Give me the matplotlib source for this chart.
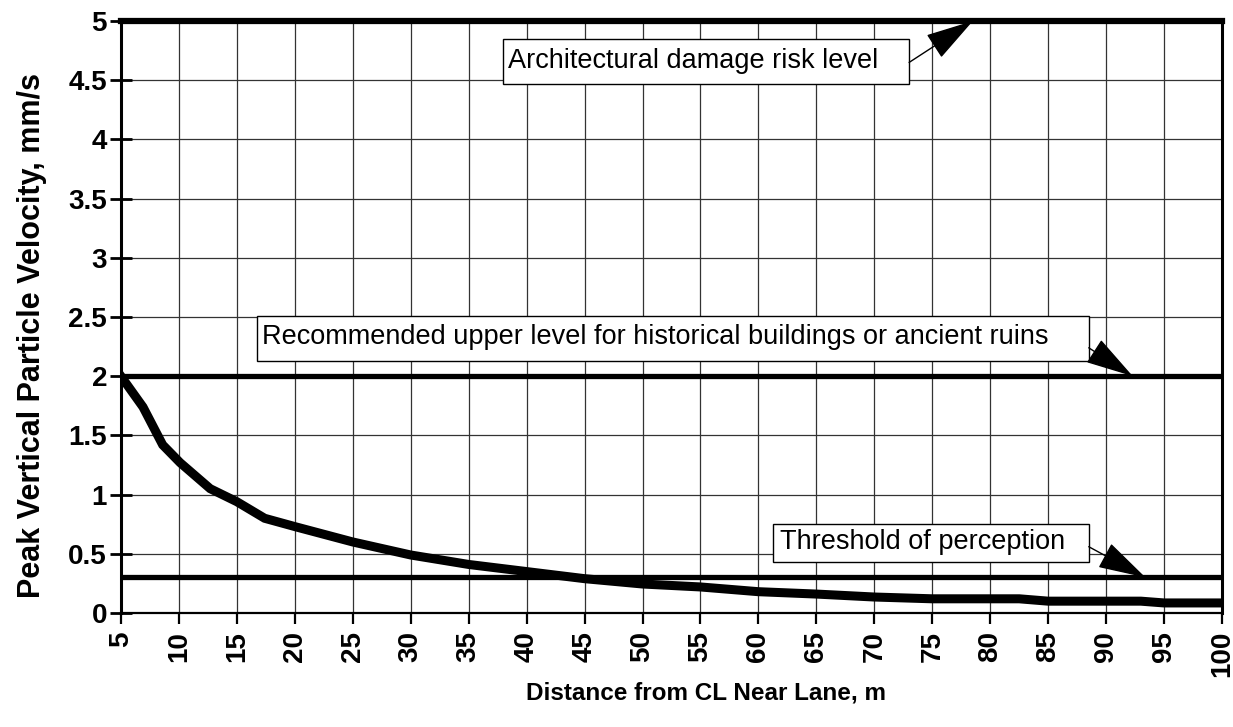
import matplotlib.pyplot as plt
from matplotlib.patches import Rectangle, ArrowStyle

plt.rcParams['font.family'] = ['Liberation Sans', 'DejaVu Sans']

# attenuation of peak particle velocity with distance from the near lane
distance = [5, 6.9, 8.6, 10.1, 12.7, 15, 17.4, 20, 25, 30, 35, 40, 45, 50, 55,
            60, 65, 70, 75, 80, 82.5, 85, 90, 93, 95, 100]
ppv = [2.0, 1.74, 1.42, 1.27, 1.05, 0.94, 0.80, 0.73, 0.60, 0.49, 0.41, 0.35,
       0.29, 0.245, 0.22, 0.18, 0.16, 0.135, 0.12, 0.12, 0.12, 0.10, 0.10,
       0.10, 0.085, 0.085]

# criterion levels, mm/s
damage_level = 5.0
historic_level = 2.0
perception_level = 0.3

x_ticks = list(range(5, 101, 5))
y_ticks = [0, 0.5, 1, 1.5, 2, 2.5, 3, 3.5, 4, 4.5, 5]
y_tick_labels = ['0', '0.5', '1', '1.5', '2', '2.5', '3', '3.5', '4', '4.5', '5']

fig = plt.figure(figsize=(12.33, 7.27), dpi=100)
ax = fig.add_axes([0.0981, 0.1568, 0.8930, 0.8143])

ax.set_xlim(5, 100)
ax.set_ylim(0, 5)
ax.set_xticks(x_ticks)
ax.set_yticks(y_ticks)
ax.set_yticklabels(y_tick_labels)
ax.grid(color='0.2', lw=0.9, ls='-')
ax.set_axisbelow(True)

for s in ['left', 'right']:
    ax.spines[s].set_linewidth(2.2)
ax.spines['bottom'].set_linewidth(1.6)
ax.spines['top'].set_linewidth(1.6)

ax.tick_params(axis='y', direction='inout', length=16, width=2, labelsize=20, pad=2)
ax.tick_params(axis='x', direction='out', length=8, width=1.6, labelsize=20,
               labelrotation=90, pad=5)
for lab in ax.get_xticklabels() + ax.get_yticklabels():
    lab.set_fontweight('bold')

# horizontal criterion lines
ax.axhline(damage_level, color='black', lw=4.5, zorder=3, clip_on=False)
ax.axhline(historic_level, color='black', lw=3.8, zorder=3)
ax.axhline(perception_level, color='black', lw=3.8, zorder=3)

# measured curve
ax.plot(distance, ppv, color='black', lw=6.5, solid_joinstyle='miter', zorder=4)

# labelled boxes with arrows pointing at each level
notes = [
    ('Architectural damage risk level', (38.0, 4.47, 35.0, 0.38), (38.4, 4.66),
     (73.0, 4.65), (78.5, damage_level)),
    ('Recommended upper level for historical buildings or ancient ruins',
     (16.7, 2.13, 71.8, 0.38), (17.2, 2.33), (88.5, 2.24), (92.3, historic_level)),
    ('Threshold of perception', (61.3, 0.43, 27.2, 0.32), (61.9, 0.60),
     (88.5, 0.56), (93.4, perception_level)),
]
head = ArrowStyle('-|>', head_length=1.4, head_width=0.4)
for txt, (bx, by, bw, bh), (tx, ty), start, tip in notes:
    ax.add_patch(Rectangle((bx, by), bw, bh, facecolor='white', edgecolor='black',
                           lw=1.0, zorder=5))
    ax.text(tx, ty, txt, fontsize=19.5, ha='left', va='center', zorder=6)
    ax.annotate('', xy=tip, xytext=start, zorder=6,
                arrowprops=dict(arrowstyle=head, mutation_scale=22, lw=1.0,
                                color='black', shrinkA=0, shrinkB=0))

ax.set_ylabel('Peak Vertical Particle Velocity, mm/s', fontsize=22,
              fontweight='bold')
ax.yaxis.set_label_coords(-0.067, 0.468)
fig.text(706 / 1233, 1 - 693 / 727, 'Distance from CL Near Lane, m',
         fontsize=17.5, fontweight='heavy', ha='center', va='center')

fig.savefig('out.png', dpi=100)
